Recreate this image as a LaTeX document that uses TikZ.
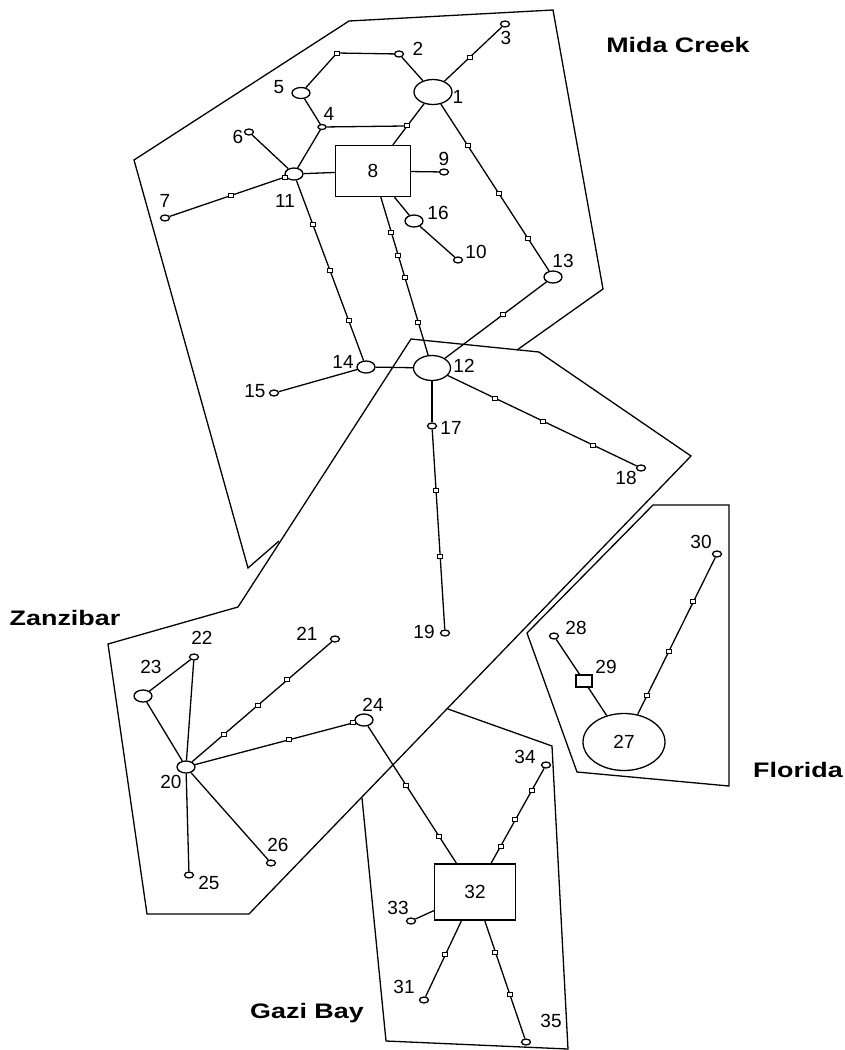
\documentclass[tikz,border=0pt]{standalone}
\usepackage{fontspec}
\setmainfont{Liberation Sans}
\usetikzlibrary{shapes.geometric, calc, backgrounds}

\begin{document}
\begin{tikzpicture}[
  x=1pt, y=-1pt,
  line width=1.3pt,
  hap/.style={ellipse,draw,fill=white,inner sep=0pt,
              minimum width=9pt,minimum height=6pt},
  hapm/.style={hap,minimum width=18pt,minimum height=12pt},
  hapl/.style={hap,minimum width=38pt,minimum height=25pt},
  sq/.style={rectangle,draw,fill=white,inner sep=0pt},
  mut/.style={sq,minimum width=5pt,minimum height=4pt,line width=1pt},
  link/.style={line width=1.3pt},
  num/.style={inner sep=0pt,font=\fontsize{19}{19}\selectfont,
              text height=13.4pt,text depth=0pt},
  site/.style={inner sep=0pt,anchor=base,
               font=\fontsize{21}{21}\selectfont\bfseries}
]
  \useasboundingbox (0,0) rectangle (845,1050);

  % Mida Creek haplotypes
  \node[hapl] (n1) at (433,92) {};
  \node[hap] (n2) at (399,54) {};
  \node[hap] (n3) at (505,24) {};
  \node[hap,minimum width=8pt,minimum height=5pt] (n4) at (322,127) {};
  \node[hapm,minimum height=11pt] (n5) at (301,93) {};
  \node[hap] (n6) at (249,132) {};
  \node[hap] (n7) at (165,218) {};
  \node[sq,num,minimum width=75pt,minimum height=51pt] (n8) at (373,171) {8};
  \node[hap] (n9) at (444,172) {};
  \node[hap] (n10) at (458,260) {};
  \node[hapm] (n11) at (294,174) {};
  \node[hapl,minimum width=37pt] (n12) at (432,368) {};
  \node[hapm] (n13) at (553,277) {};
  \node[hapm] (n14) at (366,367) {};
  \node[hap] (n15) at (274,393) {};
  \node[hapm] (n16) at (414,221) {};
  \node[hap] (n17) at (432,426) {};
  \node[hap] (n18) at (641,468) {};
  \node[hap] (n19) at (445,633) {};

  % Zanzibar haplotypes
  \node[hapm] (n20) at (186,767) {};
  \node[hap] (n21) at (335,639) {};
  \node[hap] (n22) at (194,657) {};
  \node[hapm] (n23) at (143,696) {};
  \node[hapm] (n24) at (364,720) {};
  \node[hap] (n25) at (189,875) {};
  \node[hap] (n26) at (271,863) {};

  % Florida haplotypes
  \node[ellipse,draw,fill=white,num,minimum width=82pt,minimum height=57pt] (n27) at (624,742) {27};
  \node[hap] (n28) at (554,636) {};
  \node[sq,minimum width=16pt,minimum height=12pt] (n29) at (584,681) {};
  \node[hap] (n30) at (717,554) {};

  % Gazi Bay haplotypes
  \node[hap] (n31) at (424,1000) {};
  \node[sq,num,minimum width=81pt,minimum height=56pt] (n32) at (475,892) {32};
  \node[hap] (n33) at (411,921) {};
  \node[hap] (n34) at (546,765) {};
  \node[hap] (n35) at (526,1042) {};

  % mutation steps
  \node[mut] (m25) at (337,53) {};
  \node[mut] (m13) at ($(n1)!.51!(n3)$) {};
  \node[mut] (m48) at ($(n1)!.43!(n8)$) {};
  \node[mut] (m113a) at ($(n1)!.29!(n13)$) {};
  \node[mut] (m113b) at ($(n1)!.55!(n13)$) {};
  \node[mut] (m113c) at ($(n1)!.79!(n13)$) {};
  \node[mut] (m1312) at ($(n13)!.41!(n12)$) {};
  \node[mut] (m117a) at ($(n11)!.07!(n7)$) {};
  \node[mut] (m117b) at ($(n11)!.49!(n7)$) {};
  \node[mut] (m1114a) at ($(n11)!.26!(n14)$) {};
  \node[mut] (m1114b) at ($(n11)!.50!(n14)$) {};
  \node[mut] (m1114c) at ($(n11)!.76!(n14)$) {};
  \node[mut] (m812a) at ($(n8)!.31!(n12)$) {};
  \node[mut] (m812b) at ($(n8)!.43!(n12)$) {};
  \node[mut] (m812c) at ($(n8)!.54!(n12)$) {};
  \node[mut] (m812d) at ($(n8)!.77!(n12)$) {};
  \node[mut] (m1719a) at ($(n17)!.31!(n19)$) {};
  \node[mut] (m1719b) at ($(n17)!.63!(n19)$) {};
  \node[mut] (m1218a) at ($(n12)!.30!(n18)$) {};
  \node[mut] (m1218b) at ($(n12)!.53!(n18)$) {};
  \node[mut] (m1218c) at ($(n12)!.77!(n18)$) {};
  \node[mut] (m2021a) at ($(n20)!.255!(n21)$) {};
  \node[mut] (m2021b) at ($(n20)!.48!(n21)$) {};
  \node[mut] (m2021c) at ($(n20)!.68!(n21)$) {};
  \node[mut] (m2024a) at ($(n20)!.58!(n24)$) {};
  \node[mut] (m2024b) at ($(n20)!.94!(n24)$) {};
  \node[mut] (m2432a) at ($(n24)!.38!(n32)$) {};
  \node[mut] (m2432b) at ($(n24)!.68!(n32)$) {};
  \node[mut] (m3234a) at ($(n32)!.36!(n34)$) {};
  \node[mut] (m3234b) at ($(n32)!.57!(n34)$) {};
  \node[mut] (m3234c) at ($(n32)!.80!(n34)$) {};
  \node[mut] (m3231) at ($(n32)!.58!(n31)$) {};
  \node[mut] (m3235a) at ($(n32)!.40!(n35)$) {};
  \node[mut] (m3235b) at ($(n32)!.68!(n35)$) {};
  \node[mut] (m2730a) at ($(n27)!.245!(n30)$) {};
  \node[mut] (m2730b) at ($(n27)!.48!(n30)$) {};
  \node[mut] (m2730c) at ($(n27)!.745!(n30)$) {};

  % haplotype numbers
  \node[num] (l1) at (458,97) {1};
  \node[num] (l2) at (418,49) {2};
  \node[num] (l3) at (506,38) {3};
  \node[num] (l4) at (329,114) {4};
  \node[num] (l5) at (279,87) {5};
  \node[num] (l6) at (238,137) {6};
  \node[num] (l7) at (165,201) {7};
  \node[num] (l9) at (444,159) {9};
  \node[num] (l10) at (476,252) {10};
  \node[num] (l11) at (285,201) {11};
  \node[num] (l12) at (464,366) {12};
  \node[num] (l13) at (563,261) {13};
  \node[num] (l14) at (343,362) {14};
  \node[num] (l15) at (255,391) {15};
  \node[num] (l16) at (438,213) {16};
  \node[num] (l17) at (451,428) {17};
  \node[num] (l18) at (626,478) {18};
  \node[num] (l19) at (424,632) {19};
  \node[num] (l20) at (171,782) {20};
  \node[num] (l21) at (307,634) {21};
  \node[num] (l22) at (202,638) {22};
  \node[num] (l23) at (151,667) {23};
  \node[num] (l24) at (373,705) {24};
  \node[num] (l25) at (209,883) {25};
  \node[num] (l26) at (278,845) {26};
  \node[num] (l28) at (576,628) {28};
  \node[num] (l29) at (606,667) {29};
  \node[num] (l30) at (701,542) {30};
  \node[num] (l31) at (404,987) {31};
  \node[num] (l33) at (398,908) {33};
  \node[num] (l34) at (525,757) {34};
  \node[num] (l35) at (551,1021) {35};

  % sampling sites
  \node[site] (mida) at (678,52) {\scalebox{1.28}[1]{Mida Creek}};
  \node[site] (zanz) at (65,625) {\scalebox{1.28}[1]{Zanzibar}};
  \node[site] (flor) at (798,777) {\scalebox{1.28}[1]{Florida}};
  \node[site] (gazi) at (307,1018) {\scalebox{1.28}[1]{Gazi Bay}};

  \begin{scope}[on background layer]
  \begin{scope}[link]
    % site outlines
    \draw (517,350) -- (603,289) -- (553,10) -- (349,21) -- (134,160)
          -- (248,568) -- (279,541);
    \draw (411,339) -- (539,352) -- (691,456) -- (249,914) -- (147,914)
          -- (108,644) -- (238,607) -- cycle;
    \draw (362,798) -- (386,1041) -- (568,1049) -- (552,746) -- (448,709);
    \draw (653,505) -- (729,505) -- (729,786) -- (577,772) -- (527,633)
          -- cycle;

    % network links
    \draw (n1) -- (n2);
    \draw (n1) -- (n3);
    \draw (n1) -- (n8);
    \draw (n4) -- (m48);
    \draw (n5) -- (m25) -- (n2);
    \draw (n4) -- (n5);
    \draw (n4) -- (n11);
    \draw (n1) -- (n13);
    \draw (n13) -- (n12);
    \draw (n11) -- (n6);
    \draw (n11) -- (n7);
    \draw (n11) -- (n8);
    \draw (n8) -- (n9);
    \draw (n8) -- (n16);
    \draw (n16) -- (n10);
    \draw (n11) -- (n14);
    \draw (n8) -- (n12);
    \draw (n14) -- (n12);
    \draw (n14) -- (n15);
    \draw (n12) -- (n17);
    \draw (n17) -- (n19);
    \draw (n12) -- (n18);
    \draw (n20) -- (n21);
    \draw (n20) -- (n22);
    \draw (n20) -- (n23);
    \draw (n22) -- (n23);
    \draw (n20) -- (n24);
    \draw (n20) -- (n25);
    \draw (n20) -- (n26);
    \draw (n24) -- (n32);
    \draw (n32) -- (n34);
    \draw (n32) -- (n33);
    \draw (n32) -- (n31);
    \draw (n32) -- (n35);
    \draw (n28) -- (n29);
    \draw (n29) -- (n27);
    \draw (n27) -- (n30);
  \end{scope}
  \end{scope}
\end{tikzpicture}
\end{document}
